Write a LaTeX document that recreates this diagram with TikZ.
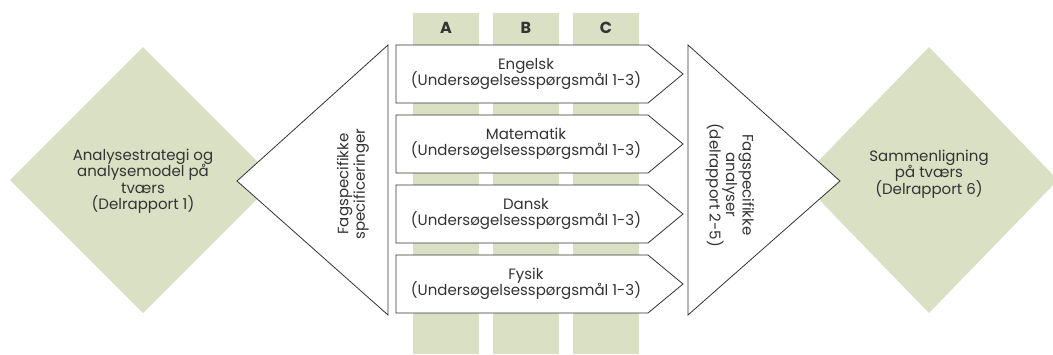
\documentclass[tikz,border=0pt]{standalone}
\usepackage{fontspec}
\setmainfont{Poppins}
\usetikzlibrary{positioning, calc}

\definecolor{sage}{RGB}{218,224,196}
\definecolor{ink}{RGB}{51,51,51}
\newcommand{\tightlines}{\lineskiplimit=-20pt\relax}

\begin{document}
\begin{tikzpicture}[
                x=1pt, y=-1pt,
                font=\fontsize{15}{16.5}\selectfont\tightlines,
                colfill/.style={fill=sage, draw=none},
                rhombus/.style={fill=sage, draw=none},
                funnel/.style={fill=white, draw=ink, line width=0.8pt},
                subjectbox/.style={fill=white, draw=ink, line width=0.8pt},
                txt/.style={align=center, inner sep=0pt, text=ink},
            ]
                \useasboundingbox (0,0) rectangle (1053,354);

                % Draw the columns A, B and C
                \foreach \name / \x in {A/413, B/493, C/573}{
                    \fill[colfill] (\x,13) rectangle (\x+66,354);
                    \node[txt, font=\fontsize{16}{18}\selectfont\bfseries] (col-\name) at (\x+33,28) {\name};
                }

                % Draw the two diamonds
                \fill[rhombus] (10,180) -- (143,47) -- (276,180) -- (143,313) -- cycle;
                \fill[rhombus] (800,180) -- (929,47) -- (1058,180) -- (929,313) -- cycle;
                \node[txt] (D-in) at (143,181) {Analysestrategi og\\analysemodel på\\tværs\\(Delrapport 1)};
                \node[txt] (D-out) at (929,174) {Sammenligning\\på tværs\\(Delrapport 6)};

                % Draw the two triangles
                \draw[funnel] (237,181) -- (388,45) -- (388,315) -- cycle;
                \draw[funnel] (688,45) -- (840,181) -- (688,315) -- cycle;
                \node[txt, rotate=90] (T-in) at (353,184) {Fagspecifikke\\specificeringer};
                \node[txt, rotate=-90] (T-out) at (730,185) {Fagspecifikke\\analyser\\(delrapport 2-5)};

                % Draw one arrow box for every subject
                \foreach \name / \y in {Engelsk/45, Matematik/115, Dansk/185, Fysik/255}{
                    \draw[subjectbox] (396,\y) -- (648,\y) -- (683,\y+29) -- (648,\y+58) -- (396,\y+58) -- cycle;
                    \node[txt] (S-\name) at (526,\y+29) {\name\\(Undersøgelsesspørgsmål 1-3)};
                }
            \end{tikzpicture}
\end{document}
